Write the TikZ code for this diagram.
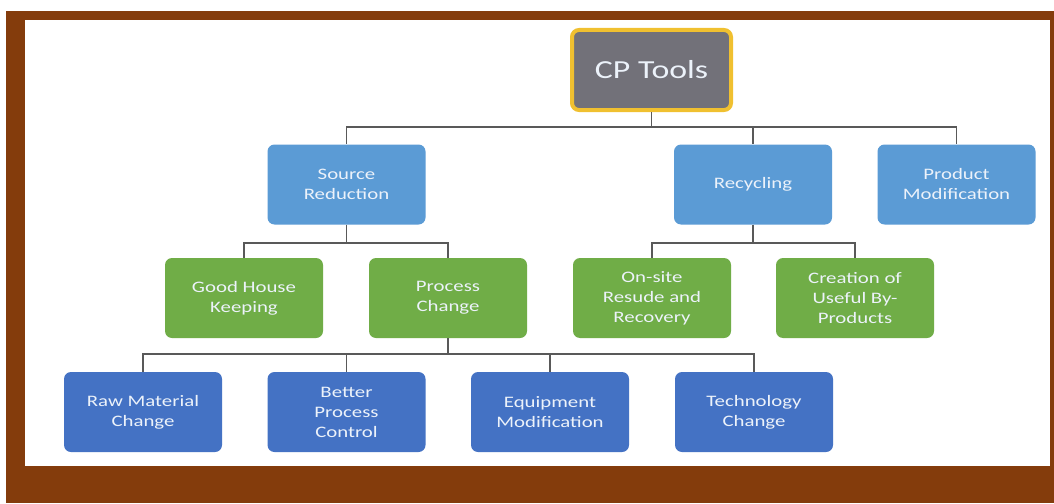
\documentclass[tikz,border=0pt]{standalone}
\usepackage{fontspec}
\setmainfont{Carlito}[FakeStretch=1.3]
\usetikzlibrary{positioning}

\definecolor{framebrown}{RGB}{132,60,12}
\definecolor{rootgray}{RGB}{114,113,121}
\definecolor{rootgold}{RGB}{240,192,48}
\definecolor{lightblue}{RGB}{91,155,213}
\definecolor{leafgreen}{RGB}{112,173,71}
\definecolor{darkblue}{RGB}{68,114,196}
\definecolor{boxtext}{RGB}{236,242,250}

\tikzset{
  box/.style={rectangle, rounded corners=7pt, minimum width=158pt, minimum height=80pt,
    inner sep=0pt, align=center, text=boxtext,
    font=\fontsize{16}{20}\selectfont},
  topbox/.style={box, fill=lightblue},
  midbox/.style={box, fill=leafgreen},
  lowbox/.style={box, fill=darkblue},
  conn/.style={draw=black!65, line width=1.1pt}
}

\begin{document}
\begin{tikzpicture}[x=1pt,y=-1pt]
  % frame
  \fill[white] (0,0) rectangle (1054,503);
  \fill[framebrown] (6,11) rectangle (1054,503);
  \fill[white] (25,20) rectangle (1050,466);
  \useasboundingbox (0,0) rectangle (1054,503);

  % Root
  \node[box, fill=rootgray, draw=rootgold, line width=4pt, minimum width=159pt,
    font=\fontsize{26}{30}\selectfont] (tools) at (651.5,70) {CP Tools};

  % First level
  \node[topbox] (src) at (346.5,184.5) {Source\\Reduction};
  \node[topbox] (rec) at (753,184.5) {Recycling};
  \node[topbox] (prod) at (956.5,184.5) {Product\\Modification};

  % Second level
  \node[midbox] (ghk) at (244,298) {Good House\\Keeping};
  \node[midbox] (pc) at (448,298) {Process\\Change};
  \node[midbox] (osr) at (652,298) {On-site\\Resude and\\Recovery};
  \node[midbox] (cbp) at (855,298) {Creation of\\Useful By-\\Products};

  % Third level
  \node[lowbox] (rmc) at (143,412) {Raw Material\\Change};
  \node[lowbox] (bpc) at (346.5,412) {Better\\Process\\Control};
  \node[lowbox] (em) at (550,412) {Equipment\\Modification};
  \node[lowbox] (tc) at (754,412) {Technology\\Change};

  % Bars
  \coordinate (tbar) at (651.5,127);
  \coordinate (sbar) at (346.5,243);
  \coordinate (rbar) at (753,243);
  \coordinate (pbar) at (448,354);

  % Connectors
  \draw[conn] (tools.south) -- (tbar);
  \draw[conn] (tbar) -| (src.north);
  \draw[conn] (tbar) -| (rec.north);
  \draw[conn] (tbar) -| (prod.north);

  \draw[conn] (src.south) -- (sbar);
  \draw[conn] (sbar) -| (ghk.north);
  \draw[conn] (sbar) -| (pc.north);

  \draw[conn] (rec.south) -- (rbar);
  \draw[conn] (rbar) -| (osr.north);
  \draw[conn] (rbar) -| (cbp.north);

  \draw[conn] (pc.south) -- (pbar);
  \draw[conn] (pbar) -| (rmc.north);
  \draw[conn] (pbar) -| (bpc.north);
  \draw[conn] (pbar) -| (em.north);
  \draw[conn] (pbar) -| (tc.north);
\end{tikzpicture}
\end{document}
